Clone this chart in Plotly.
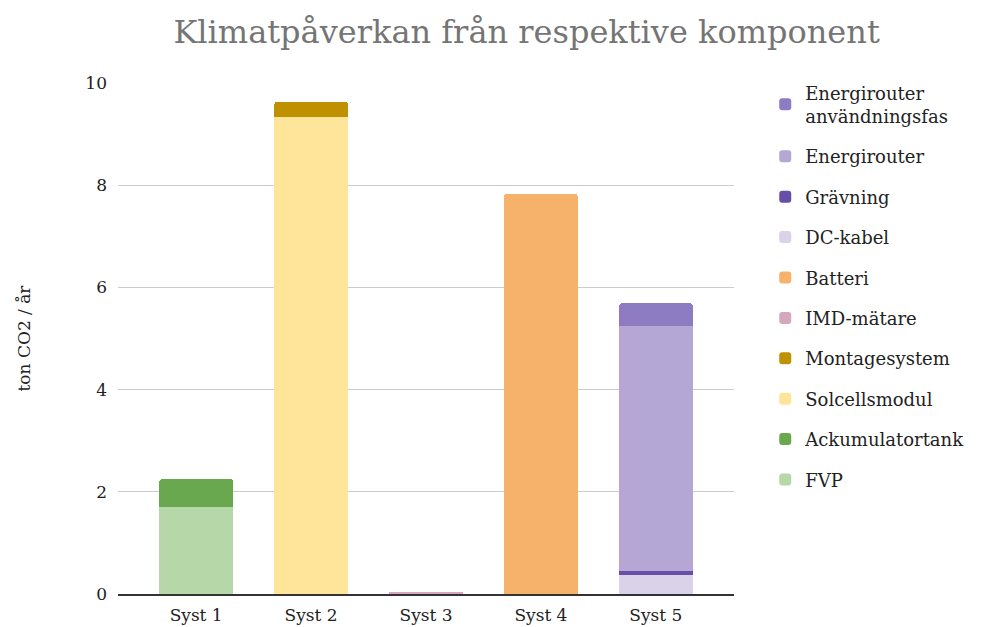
"""Stacked bar chart: climate impact per component for five systems."""

import plotly.graph_objects as go

systems = ["Syst 1", "Syst 2", "Syst 3", "Syst 4", "Syst 5"]

# ton CO2 / år, per component and system (stack order bottom -> top)
fvp = [1.70, 0, 0, 0, 0]
ackumulatortank = [0.55, 0, 0, 0, 0]
solcellsmodul = [0, 9.33, 0, 0, 0]
montagesystem = [0, 0.30, 0, 0, 0]
imd_matare = [0, 0, 0.03, 0, 0]
batteri = [0, 0, 0, 7.83, 0]
dc_kabel = [0, 0, 0, 0, 0.37]
gravning = [0, 0, 0, 0, 0.08]
energirouter = [0, 0, 0, 0, 4.79]
energirouter_anv = [0, 0, 0, 0, 0.45]

components = [
    ("FVP", fvp, "#b6d7a8"),
    ("Ackumulatortank", ackumulatortank, "#6aa84f"),
    ("Solcellsmodul", solcellsmodul, "#ffe599"),
    ("Montagesystem", montagesystem, "#bf9000"),
    ("IMD-mätare", imd_matare, "#d5a6bd"),
    ("Batteri", batteri, "#f6b26b"),
    ("DC-kabel", dc_kabel, "#d9d2e9"),
    ("Grävning", gravning, "#674ea7"),
    ("Energirouter", energirouter, "#b4a7d6"),
    ("Energirouter<br>användningsfas", energirouter_anv, "#8e7cc3"),
]

FONT = "'DejaVu Serif', Georgia, serif"

fig = go.Figure()
for i, (name, vals, color) in enumerate(components):
    fig.add_trace(go.Bar(
        x=systems, y=vals, name=name, legendgroup=name, legendrank=100 - i,
        marker=dict(color=color, line=dict(width=0)),
    ))

# page body has an 8px margin, so the figure is sized to the visible area
fig.update_layout(
    width=973, height=619, barmode="stack", bargap=0.36, barcornerradius=3,
    plot_bgcolor="white", paper_bgcolor="white",
    font=dict(family=FONT, size=17, color="#222222"),
    title=dict(text="Klimatpåverkan från respektive komponent", x=0.533, xanchor="center",
               y=0.962, yanchor="middle", font=dict(size=32, color="#757575")),
    margin=dict(l=110, r=246, t=75, b=33),
    legend=dict(x=1.049, y=1.017, xanchor="left", yanchor="top", traceorder="grouped",
                tracegroupgap=14, maxheight=1, font=dict(size=18, color="#222222")),
    showlegend=True,
)
fig.update_xaxes(range=[-0.68, 4.68], showline=True, linecolor="#333333", linewidth=1.5,
                 ticks="", ticklabelstandoff=5, automargin=False, tickfont=dict(size=17))
fig.update_yaxes(range=[0, 10], dtick=2, showgrid=True, gridcolor="#cccccc", zeroline=False,
                 ticks="", ticklabelstandoff=10, automargin=False, tickfont=dict(size=17),
                 title=dict(text="ton CO2 / år", standoff=50, font=dict(size=17)))

fig.write_html("out.html")
